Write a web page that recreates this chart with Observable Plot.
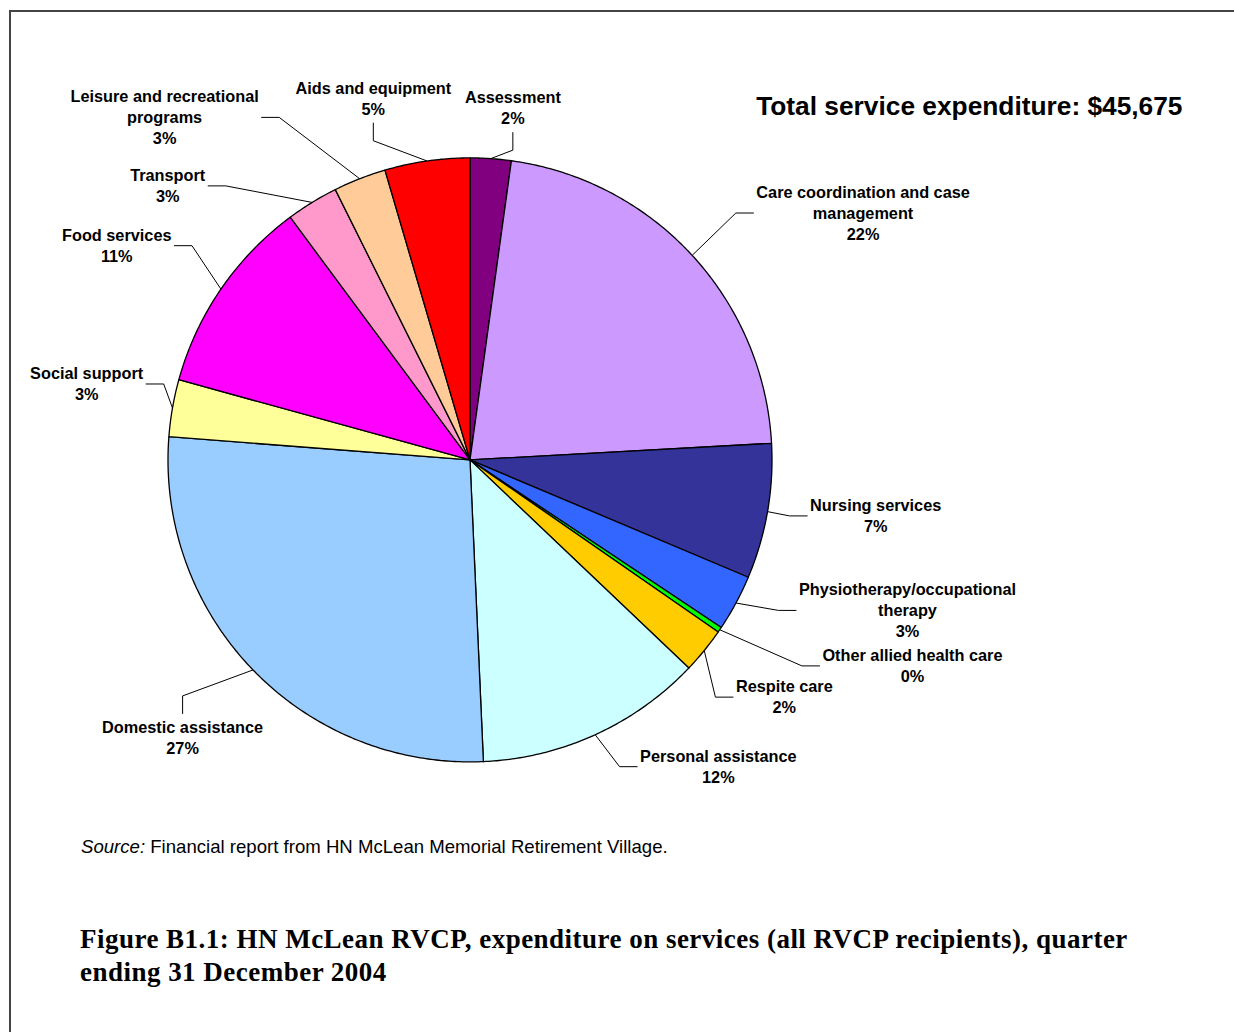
<!DOCTYPE html>
<html>
<head>
<meta charset="utf-8">
<script src="https://cdn.jsdelivr.net/npm/d3@7"></script>
<script src="https://cdn.jsdelivr.net/npm/@observablehq/plot@0.6"></script>
<style>
  html, body { margin: 0; padding: 0; background: #fff; }
  #page { position: relative; width: 1234px; height: 1032px; overflow: hidden; }
  #frame { position: absolute; left: 9px; top: 10px; width: 1400px; height: 1200px;
           border-top: 2px solid #444; border-left: 2px solid #444; }
  #chart { position: absolute; left: 0; top: 0; }
  #source { position: absolute; left: 81px; top: 836px; font: 18.6px/22px Arial, "Liberation Sans", sans-serif;
            color: #000; white-space: nowrap; }
  #caption { position: absolute; left: 80px; top: 923px; font: bold 27px/33.3px "Liberation Serif", "Times New Roman", serif;
             letter-spacing: 0.48px; color: #000; white-space: nowrap; }
</style>
</head>
<body>
<div id="page">
  <div id="frame"></div>
  <div id="chart"></div>
  <div id="source"><i>Source:</i> Financial report from HN McLean Memorial Retirement Village.</div>
  <div id="caption">Figure B1.1: HN McLean RVCP, expenditure on services (all RVCP recipients), quarter<br>ending 31 December 2004</div>
</div>
<script>
// Service categories, clockwise from 12 o'clock (line breaks as the labels wrap)
const categories = [
  "Assessment",
  "Care coordination and case\nmanagement",
  "Nursing services",
  "Physiotherapy/occupational\ntherapy",
  "Other allied health care",
  "Respite care",
  "Personal assistance",
  "Domestic assistance",
  "Social support",
  "Food services",
  "Transport",
  "Leisure and recreational\nprograms",
  "Aids and equipment"
];

// Expenditure per service for the quarter ($)
const expenditure = [1000, 10020, 3300, 1375, 130, 1120, 5570, 12300, 1395, 4830, 1275, 1285, 2075];

// Slice fills
const colors = [
  "#800080", "#cc99ff", "#333399", "#3366ff", "#00ff00", "#ffcc00", "#ccffff",
  "#99ccff", "#ffff99", "#ff00ff", "#ff99cc", "#ffcc99", "#ff0000"
];

// Label placement around the pie: angular nudge from the slice's mid-angle (degrees),
// distance from the centre (in pie radii) and the side where the leader line meets the label
const labelNudge = [3, 10.5, -2, -9.3, -9.25, -2.1, -14.5, 0, 1.3, -3.2, -16.3, -20.3, -6.8];
const labelDist = [1.174, 1.537, 1.356, 1.532, 1.616, 1.304, 1.307, 1.3245, 1.294, 1.368, 1.351, 1.5195, 1.2387];
const leaderSide = ["below", "left", "left", "left", "left", "left", "left", "above", "right", "right", "right", "right", "below"];

// Layout
const W = 1234, H = 800;
const cx = 469.5, cy = 459.4, R = 302;          // pie centre and radius, px
const font = "Arial, 'Liberation Sans', Helvetica, sans-serif";
const labelSize = 16.3, lineH = 21;             // label font size and line spacing, px
const gapH = 2.5, gapV = 3.2, tailPx = 18;      // leader line gaps and horizontal/vertical tail, px

const total = d3.sum(expenditure);
const pct = expenditure.map(v => Math.round(v / total * 100));
const arcs = d3.pie().sort(null)(expenditure);

// Each slice as a closed polygon in pie-radius units (x right, y up)
const slicePts = [];
arcs.forEach((a, i) => {
  const cat = categories[i];
  const n = Math.max(2, Math.ceil((a.endAngle - a.startAngle) / (Math.PI / 360)));
  slicePts.push({cat, x: 0, y: 0});
  for (let k = 0; k <= n; k++) {
    const t = a.startAngle + (a.endAngle - a.startAngle) * k / n;
    slicePts.push({cat, x: Math.sin(t), y: Math.cos(t)});
  }
  slicePts.push({cat, x: 0, y: 0});
});

// Measure label blocks so leader lines stop just short of the text
const ctx = document.createElement("canvas").getContext("2d");
ctx.font = `bold ${labelSize}px Arial, "Liberation Sans", sans-serif`;

const labels = arcs.map((a, i) => {
  const mid = (a.startAngle + a.endAngle) / 2;
  const t = mid + labelNudge[i] * Math.PI / 180;
  const text = `${categories[i]}\n${pct[i]}%`;
  const lines = text.split("\n");
  return {
    cat: categories[i], text, mid, side: leaderSide[i],
    x: labelDist[i] * Math.sin(t),
    y: labelDist[i] * Math.cos(t),
    halfW: d3.max(lines, l => ctx.measureText(l).width) / 2 / R,
    halfH: lines.length * lineH / 2 / R
  };
});

// Leader: slice mid-point on the rim -> elbow -> short straight tail to the label
const tl = tailPx / R, gh = gapH / R, gv = gapV / R;
const leaderPts = labels.flatMap(d => {
  let end, elbow;
  if (d.side === "left")  { end = [d.x - d.halfW - gh, d.y]; elbow = [end[0] - tl, end[1]]; }
  if (d.side === "right") { end = [d.x + d.halfW + gh, d.y]; elbow = [end[0] + tl, end[1]]; }
  if (d.side === "below") { end = [d.x, d.y - d.halfH - gv]; elbow = [end[0], end[1] - tl]; }
  if (d.side === "above") { end = [d.x, d.y + d.halfH + gv]; elbow = [end[0], end[1] + tl]; }
  return [[Math.sin(d.mid), Math.cos(d.mid)], elbow, end].map(([x, y]) => ({cat: d.cat, x, y}));
});

const chart = Plot.plot({
  width: W,
  height: H,
  margin: 0,
  style: {fontFamily: font, background: "transparent", color: "#000", overflow: "visible"},
  x: {domain: [-cx / R, (W - cx) / R], axis: null},
  y: {domain: [-(H - cy) / R, cy / R], axis: null},
  color: {domain: categories, range: colors},
  marks: [
    Plot.line(slicePts, {
      x: "x", y: "y", z: "cat", fill: "cat",
      stroke: "#000", strokeWidth: 1.3, strokeLinejoin: "round", curve: "linear"
    }),
    Plot.line(leaderPts, {x: "x", y: "y", z: "cat", stroke: "#000", strokeWidth: 1, strokeLinecap: "butt"}),
    Plot.text(labels, {
      x: "x", y: "y", text: "text",
      fontFamily: font, fontSize: labelSize, fontWeight: "bold", fill: "#000",
      lineHeight: lineH / labelSize, lineAnchor: "middle", textAnchor: "middle", dy: -1
    }),
    Plot.text([`Total service expenditure: ${d3.format("$,")(total)}`], {
      frameAnchor: "top-right", dx: -52, dy: 106,
      fontFamily: font, fontSize: 26.3, fontWeight: "bold", fill: "#000",
      textAnchor: "end", lineAnchor: "middle"
    })
  ]
});

document.getElementById("chart").append(chart);
</script>
</body>
</html>
